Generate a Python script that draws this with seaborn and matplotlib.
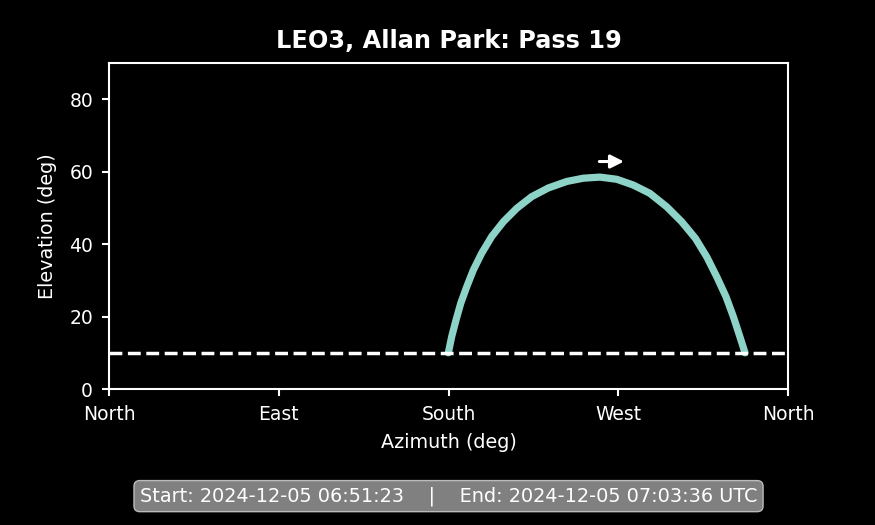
import pandas as pd
import matplotlib
matplotlib.use('Agg')
import matplotlib.pyplot as plt
import matplotlib.transforms as mtransforms
import seaborn as sns

# Pass track (azimuth, elevation in degrees)
azimuth = [179.9, 181.7, 184.0, 186.5, 189.7, 193.2, 197.6, 202.9, 209.1, 216.2,
           224.1, 232.9, 242.7, 251.5, 260.3, 269.2, 278.0, 286.8, 295.7, 303.6,
           310.9, 316.9, 322.2, 327.1, 331.0, 334.5, 337.2]
elevation = [10.0, 14.5, 19.1, 23.7, 28.3, 32.9, 37.5, 42.1, 46.2, 49.9,
             53.1, 55.5, 57.3, 58.2, 58.5, 57.9, 56.3, 54.0, 50.3, 46.2,
             41.6, 36.5, 31.0, 25.5, 20.0, 14.4, 10.0]
min_elevation = 10
arrow_az = [258.5, 274.5]
arrow_el = 62.8

sat_name = 'LEO3'
site_name = 'Allan Park'
pass_no = 19
start_time = '2024-12-05 06:51:23'
end_time = '2024-12-05 07:03:36'

az_ticks = [0, 90, 180, 270, 360]
az_labels = ['North', 'East', 'South', 'West', 'North']

df_pass = pd.DataFrame({'az': azimuth, 'el': elevation})

plt.style.use('dark_background')
fig = plt.figure(figsize=(8.75, 5.25), dpi=100)
ax = fig.add_axes([0.1246, 0.259, 0.776, 0.621])

sns.lineplot(data=df_pass, x='az', y='el', sort=False, color='#8dd3c7',
             linewidth=5.2, solid_capstyle='round', solid_joinstyle='round', ax=ax)
ax.axhline(min_elevation, color='white', linestyle='--', linewidth=2.5)

# direction of travel
ax.annotate('', xy=(arrow_az[1], arrow_el), xytext=(arrow_az[0], arrow_el),
            arrowprops=dict(arrowstyle='-|>', color='white', lw=2.2, mutation_scale=20))

ax.set_xlim(0, 360)
ax.set_ylim(0, 90)
ax.set_xticks(az_ticks)
ax.set_xticklabels(az_labels)
ax.set_yticks([0, 20, 40, 60, 80])
ax.tick_params(labelsize=13.5, length=5, width=1.5, pad=6.5)
for s in ax.spines.values():
    s.set_linewidth(1.5)
ax.set_xlabel('Azimuth (deg)', fontsize=13.75, labelpad=6.5)
ax.set_ylabel('Elevation (deg)', fontsize=13.75, labelpad=9)
ax.set_title(f'{sat_name}, {site_name}: Pass {pass_no}', fontsize=17.3,
             fontweight='bold', pad=11)

# footer centred under the axes
footer_tr = mtransforms.blended_transform_factory(ax.transAxes, fig.transFigure)
ax.text(0.5, 0.055, f'Start: {start_time}    |    End: {end_time} UTC',
        transform=footer_tr, ha='center', va='center', fontsize=13.9, color='white',
        bbox=dict(boxstyle='round,pad=0.3', facecolor='gray', edgecolor='#bbbbbb', alpha=1.0))

fig.savefig('out.png', dpi=100)
